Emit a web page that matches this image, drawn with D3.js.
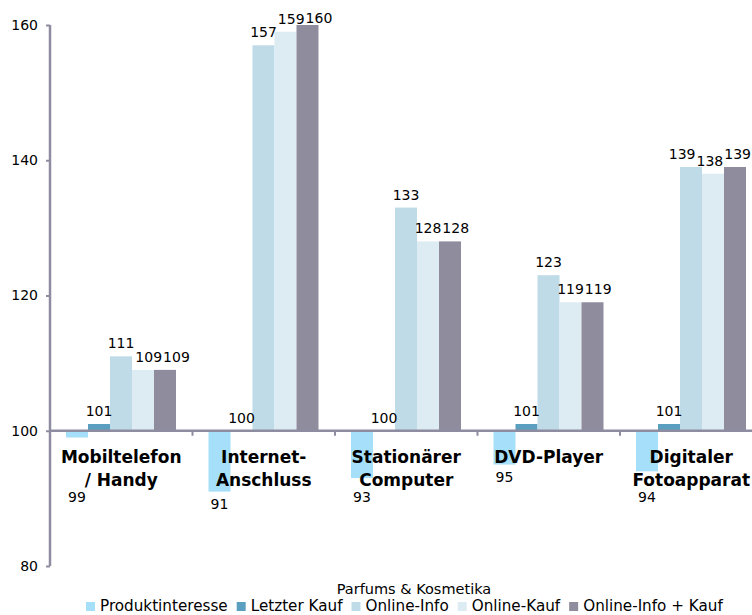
<!DOCTYPE html>
<html>
<head>
<meta charset="utf-8">
<script src="https://cdn.jsdelivr.net/npm/d3@7"></script>
<style>
  html, body { margin: 0; padding: 0; background: #fff; }
  svg { display: block; }
  text { font-family: "DejaVu Sans", Verdana, sans-serif; fill: #000; }
</style>
</head>
<body>
<svg id="chart" width="752" height="615"></svg>
<script>
// Category labels (split into display lines)
const categories = [
  ["Mobiltelefon", "/ Handy"],
  ["Internet-", "Anschluss"],
  ["Stationärer", "Computer"],
  ["DVD-Player"],
  ["Digitaler", "Fotoapparat"]
];
const seriesNames = ["Produktinteresse", "Letzter Kauf", "Online-Info", "Online-Kauf", "Online-Info + Kauf"];
const produktinteresse = [99, 91, 93, 95, 94];
const letzterKauf      = [101, 100, 100, 101, 101];
const onlineInfo       = [111, 157, 133, 123, 139];
const onlineKauf       = [109, 159, 128, 119, 138];
const onlineInfoKauf   = [109, 160, 128, 119, 139];
const yTicks = [80, 100, 120, 140, 160];
const legendTitle = "Parfums & Kosmetika";
const baseValue = 100;

const colors = ["#a6dff9", "#5b9fc0", "#bedbe7", "#ddebf3", "#8f8c9e"];
const seriesValues = [produktinteresse, letzterKauf, onlineInfo, onlineKauf, onlineInfoKauf];

const width = 752;
const svg = d3.select("#chart");
const axisColor = "#8e8ca0";

const x0 = d3.scaleBand().domain(d3.range(categories.length)).range([50, 762.5]).paddingInner(0).paddingOuter(0);
const x1 = d3.scaleBand().domain(d3.range(seriesNames.length)).range([16, x0.bandwidth() - 16.5]).padding(0);
const y = d3.scaleLinear().domain([80, 160]).range([566, 25]);

const catLine1 = 463;     // baseline of first category line
const catLineGap = 23;    // line spacing of category labels

// Bars
const groups = svg.append("g").selectAll("g")
  .data(categories.map((c, i) => i))
  .join("g")
  .attr("transform", i => `translate(${x0(i)},0)`);

groups.selectAll("rect")
  .data(i => seriesValues.map((vals, s) => ({ s, v: vals[i] })))
  .join("rect")
  .attr("x", d => x1(d.s))
  .attr("width", x1.bandwidth())
  .attr("y", d => Math.min(y(d.v), y(baseValue)))
  .attr("height", d => Math.abs(y(d.v) - y(baseValue)))
  .attr("fill", d => colors[d.s]);

// Value labels: above bars that rise, below bars that fall (clear of the category text)
groups.selectAll("text.val")
  .data(i => seriesValues.map((vals, s) => ({ s, v: vals[i], lines: categories[i].length })))
  .join("text")
  .attr("class", "val")
  .attr("x", d => x1(d.s) + x1.bandwidth() / 2)
  .attr("y", d => {
    if (d.v >= baseValue) return Math.max(y(d.v) - 8, 23);
    const textBottom = catLine1 + (d.lines - 1) * catLineGap;
    return Math.max(y(d.v) + 17, textBottom + 16);
  })
  .attr("text-anchor", "middle")
  .style("font-size", "14px")
  .text(d => d.v);

// Nudge neighbouring labels apart so adjacent values stay readable,
// and keep them inside the drawing area
groups.each(function (i) {
  const offset = x0(i);
  const items = d3.select(this).selectAll("text.val").nodes().map(node => ({
    node,
    w: node.getComputedTextLength(),
    cx: +node.getAttribute("x"),
    ly: +node.getAttribute("y")
  }));
  const near = (a, b) => Math.abs(a.ly - b.ly) < 14;
  // left-to-right pass
  for (let k = 1; k < items.length; k++) {
    const a = items[k - 1], b = items[k];
    if (near(a, b) && b.cx - b.w / 2 < a.cx + a.w / 2 + 1) b.cx = a.cx + a.w / 2 + 1 + b.w / 2;
  }
  // right edge, then right-to-left pass
  const last = items[items.length - 1];
  const maxRight = width - offset - 1;
  if (last.cx + last.w / 2 > maxRight) last.cx = maxRight - last.w / 2;
  for (let k = items.length - 2; k >= 0; k--) {
    const a = items[k], b = items[k + 1];
    if (near(a, b) && a.cx + a.w / 2 > b.cx - b.w / 2 - 1) a.cx = b.cx - b.w / 2 - 1 - a.w / 2;
  }
  items.forEach(it => it.node.setAttribute("x", it.cx));
});

// Y axis
const yAxis = d3.axisLeft(y).tickValues(yTicks).tickSize(4).tickPadding(8);
const gy = svg.append("g").attr("transform", "translate(50,0)").call(yAxis);
gy.select(".domain").attr("stroke", axisColor).attr("stroke-width", 2.5).attr("d", `M0,${y(80)}V${y(160)}`);
gy.selectAll(".tick line").attr("stroke", axisColor).attr("stroke-width", 2);
gy.selectAll(".tick text").style("font-size", "14px").style("font-family", "DejaVu Sans, Verdana, sans-serif").attr("fill", "#000");

// Baseline at 100 with category separator ticks
const gx = svg.append("g").attr("transform", `translate(0,${y(baseValue)})`);
gx.append("line").attr("x1", 50).attr("x2", 762).attr("y1", 0).attr("y2", 0)
  .attr("stroke", axisColor).attr("stroke-width", 2.5);
gx.selectAll("line.ct")
  .data(d3.range(1, categories.length))
  .join("line")
  .attr("class", "ct")
  .attr("x1", i => x0(i)).attr("x2", i => x0(i))
  .attr("y1", 0).attr("y2", 5)
  .attr("stroke", axisColor).attr("stroke-width", 2);

// Category labels
const catLabels = svg.append("g").selectAll("text")
  .data(categories)
  .join("text")
  .attr("text-anchor", "middle")
  .attr("x", (c, i) => x0(i) + x0.bandwidth() / 2)
  .attr("y", catLine1)
  .style("font-size", "17px")
  .style("font-weight", "bold");
catLabels.selectAll("tspan")
  .data(c => c)
  .join("tspan")
  .attr("x", function () { return this.parentNode.getAttribute("x"); })
  .attr("dy", (d, j) => j === 0 ? 0 : catLineGap)
  .text(d => d);

// Legend
svg.append("text")
  .attr("x", 414).attr("y", 594)
  .attr("text-anchor", "middle")
  .style("font-size", "14.5px")
  .text(legendTitle);

const legend = svg.append("g").attr("transform", "translate(86,611)");
let lx = 0;
seriesNames.forEach((name, s) => {
  const item = legend.append("g").attr("transform", `translate(${lx},0)`);
  item.append("rect").attr("x", 0).attr("y", -9).attr("width", 9).attr("height", 9).attr("fill", colors[s]);
  const t = item.append("text").attr("x", 14).attr("y", 0).style("font-size", "15.2px").text(name);
  const w = t.node().getComputedTextLength();
  lx += 14 + w + 9;
});
</script>
</body>
</html>
